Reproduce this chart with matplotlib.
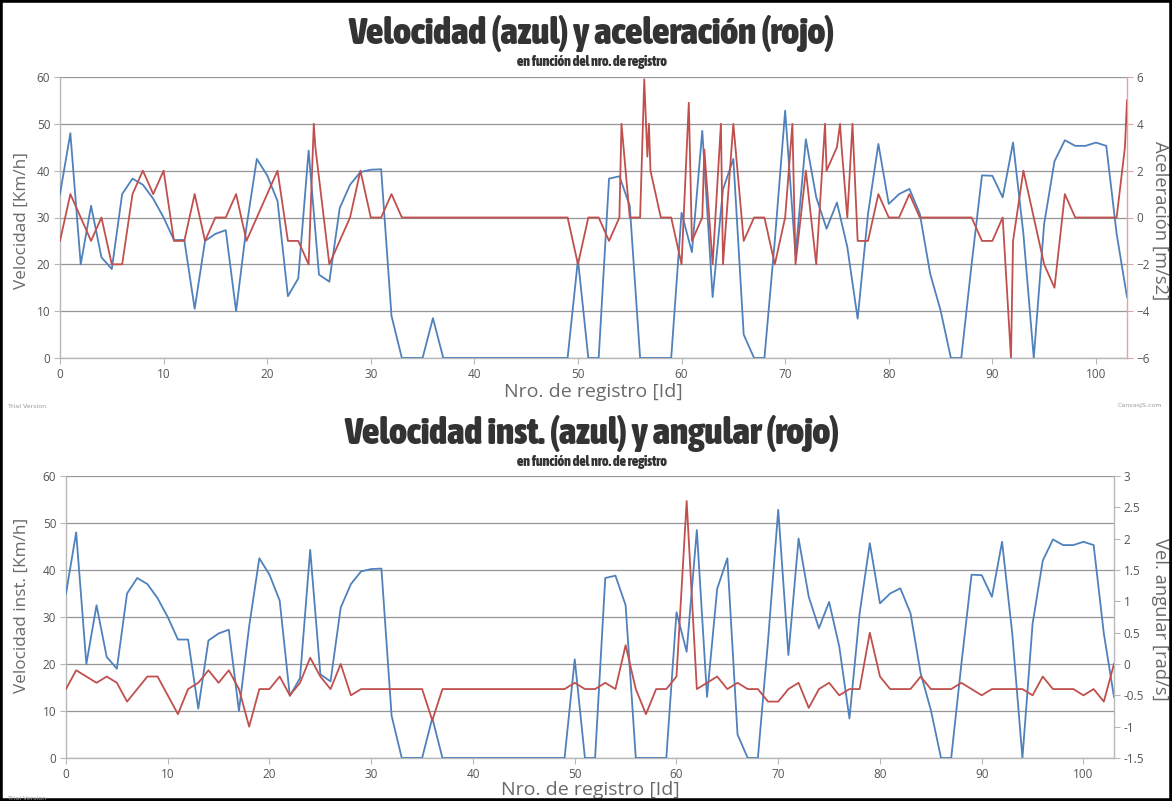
import matplotlib
matplotlib.use("Agg")
import matplotlib.pyplot as plt
from matplotlib.patches import Rectangle
from matplotlib import font_manager as fm

# ---------------- data ----------------
record_ids = list(range(104))

velocity = [35, 48, 20, 32.5, 21.5, 19, 35, 38.3, 37, 34,
            30, 25.2, 25.2, 10.5, 25, 26.5, 27.3, 10, 28, 42.5,
            39, 33.5, 13.2, 17, 44.3, 17.8, 16.3, 32, 37, 39.7,
            40.2, 40.3, 9, 0, 0, 0, 8.5, 0, 0, 0,
            0, 0, 0, 0, 0, 0, 0, 0, 0, 0,
            21, 0, 0, 38.3, 38.8, 32.5, 0, 0, 0, 0,
            31, 22.6, 48.5, 13, 36, 42.5, 5, 0, 0, 25,
            52.8, 21.9, 46.7, 34.3, 27.6, 33.2, 23.7, 8.4, 30.8, 45.7,
            32.9, 35, 36.1, 30.8, 18, 10.2, 0, 0, 20, 39,
            38.9, 34.3, 46, 26.5, 0, 28.6, 42, 46.5, 45.3, 45.3,
            46, 45.3, 26.5, 13]

accel_x = [0, 1, 2, 3, 4, 5, 6, 7, 8, 9,
           10, 11, 12, 13, 14, 15, 16, 17, 18, 19,
           20, 21, 22, 23, 24, 24.5, 24.65, 26, 27, 28,
           29, 30, 31, 32, 33, 34, 35, 36, 37, 38,
           39, 40, 41, 42, 43, 44, 45, 46, 47, 48,
           49, 50, 51, 52, 53, 54, 54.2, 55, 56, 56.4,
           56.7, 56.85, 57, 58, 59, 60, 60.7, 61, 62, 62.2,
           63, 63.8, 64, 65, 66, 67, 68, 69, 70, 70.7,
           71, 72, 73, 73.85, 74, 75, 75.3, 75.45, 76, 76.5,
           77, 78, 79, 80, 81, 82, 83, 84, 85, 86,
           87, 88, 89, 90, 91, 91.8, 92, 93, 95, 96,
           97, 98, 99, 100, 101, 102, 102.8, 103]

accel = [-1, 1, 0, -1, 0, -2, -2, 1, 2, 1,
         2, -1, -1, 1, -1, 0, 0, 1, -1, 0,
         1, 2, -1, -1, -2, 4, 3, -2, -1, 0,
         2, 0, 0, 1, 0, 0, 0, 0, 0, 0,
         0, 0, 0, 0, 0, 0, 0, 0, 0, 0,
         0, -2, 0, 0, -1, 0, 4, 0, 0, 5.9,
         2.6, 4, 2, 0, 0, -2, 4.9, -1, 0, 2.9,
         -2, 4, -2, 4, -1, 0, 0, -2, 0, 4,
         -2, 2, -2, 4, 2, 3, 4, 3, 0, 4,
         -1, -1, 1, 0, 0, 1, 0, 0, 0, 0,
         0, 0, -1, -1, 0, -6, -1, 2, -2, -3,
         1, 0, 0, 0, 0, 0, 3, 5]

angular = [-0.4, -0.1, -0.2, -0.3, -0.2, -0.3, -0.6, -0.4, -0.2, -0.2,
           -0.5, -0.8, -0.4, -0.3, -0.1, -0.3, -0.1, -0.4, -1.0, -0.4,
           -0.4, -0.2, -0.5, -0.3, 0.1, -0.2, -0.4, 0.0, -0.5, -0.4,
           -0.4, -0.4, -0.4, -0.4, -0.4, -0.4, -0.9, -0.4, -0.4, -0.4,
           -0.4, -0.4, -0.4, -0.4, -0.4, -0.4, -0.4, -0.4, -0.4, -0.4,
           -0.3, -0.4, -0.4, -0.3, -0.4, 0.3, -0.4, -0.8, -0.4, -0.4,
           -0.2, 2.6, -0.4, -0.3, -0.2, -0.4, -0.3, -0.4, -0.4, -0.6,
           -0.6, -0.4, -0.3, -0.7, -0.4, -0.3, -0.5, -0.4, -0.4, 0.5,
           -0.2, -0.4, -0.4, -0.4, -0.2, -0.4, -0.4, -0.4, -0.3, -0.4,
           -0.5, -0.4, -0.4, -0.4, -0.4, -0.5, -0.2, -0.4, -0.4, -0.4,
           -0.5, -0.4, -0.6, 0.0]

x_ticks = [0, 10, 20, 30, 40, 50, 60, 70, 80, 90, 100]
vel_ticks = [0, 10, 20, 30, 40, 50, 60]
acc_ticks = [-6, -4, -2, 0, 2, 4, 6]
ang_ticks = [-1.5, -1, -0.5, 0, 0.5, 1, 1.5, 2, 2.5, 3]
ang_labels = ["-1.5", "-1", "-0.5", "0", "0.5", "1", "1.5", "2", "2.5", "3"]

# ---------------- style ----------------
BLUE = "#4F81BC"
RED = "#C0504E"
GRID = "#969696"
AXIS = "#b8b8b8"
TICKLBL = "#555555"
LABEL_FONT = ["Open Sans", "DejaVu Sans"]
LABEL_COLOR = "#6a6a6a"
XLABEL_SIZE = 14
LEFT_SIZE = 12.3
RIGHT_SIZE = 13.2


def _weight(f):
    w = f.weight
    if isinstance(w, int):
        return w
    return {"ultralight": 200, "light": 300, "normal": 400, "regular": 400,
            "medium": 500, "semibold": 600, "demibold": 600, "bold": 700,
            "extra bold": 800, "heavy": 800, "black": 900}.get(str(w).lower(), 400)


def pick_title_font():
    best = None
    for f in fm.fontManager.ttflist:
        n = f.name.lower()
        st = f.stretch
        cond = ("condensed" in n or "narrow" in n or "compressed" in n)
        if isinstance(st, str):
            cond = cond or st in ("condensed", "semi-condensed",
                                  "extra-condensed", "ultra-condensed")
        elif isinstance(st, (int, float)):
            cond = cond or st < 500
        if not cond or "italic" in str(f.style).lower() or "oblique" in str(f.style).lower():
            continue
        score = _weight(f)
        if best is None or score > best[0]:
            best = (score, f.fname)
    if best is not None and best[0] >= 600:
        return fm.FontProperties(fname=best[1])
    return fm.FontProperties(family=["Roboto", "DejaVu Sans"], weight="black")


TITLE_PROP = pick_title_font()

W, H = 1172, 801
fig = plt.figure(figsize=(W / 100, H / 100), dpi=100)
fig.patch.set_facecolor("white")


def px_rect(left, top, right, bottom):
    return [left / W, 1 - bottom / H, (right - left) / W, (bottom - top) / H]


def fitted_text(cx, cy, text, target_w, max_size):
    t = fig.text(cx / W, 1 - cy / H, text, ha="center", va="center",
                 color="#333333", fontproperties=TITLE_PROP.copy())
    t.set_fontsize(max_size)
    r = fig.canvas.get_renderer()
    w = t.get_window_extent(renderer=r).width
    if w > target_w:
        t.set_fontsize(max_size * target_w / w)
    return t


def style_axes(ax, ax2, rcolor):
    ax.set_xlim(0, 103)
    ax.set_ylim(0, 60)
    ax.set_xticks(x_ticks)
    ax.set_yticks(vel_ticks)
    ax.grid(axis="y", color=GRID, lw=0.9)
    ax.grid(axis="x", visible=False)
    ax.set_axisbelow(True)
    for s in ("top", "right"):
        ax.spines[s].set_visible(False)
    for s in ("left", "bottom"):
        ax.spines[s].set_color(AXIS)
        ax.spines[s].set_linewidth(1.0)
    ax.tick_params(axis="both", colors=AXIS, labelcolor=TICKLBL,
                   labelsize=8.5, length=4, width=0.8, pad=3)
    for s in ("top", "left", "bottom"):
        ax2.spines[s].set_visible(False)
    ax2.spines["right"].set_color(rcolor)
    ax2.spines["right"].set_linewidth(1.0)
    ax2.tick_params(axis="y", colors=rcolor, labelcolor=TICKLBL,
                    labelsize=8.5, length=4, width=0.8, pad=3)
    for lbl in ax.get_xticklabels() + ax.get_yticklabels() + ax2.get_yticklabels():
        lbl.set_family(LABEL_FONT)
    ax.set_xlabel("Nro. de registro [Id]", fontsize=XLABEL_SIZE, color=LABEL_COLOR,
                  family=LABEL_FONT)


# ---------------- top chart ----------------
ax1 = fig.add_axes(px_rect(60, 77, 1127, 358))
ax1.plot(record_ids, velocity, color=BLUE, lw=1.3, zorder=3)
ax1b = ax1.twinx()
ax1b.plot(accel_x, accel, color=RED, lw=1.3, zorder=3)
ax1b.set_ylim(-6, 6)
ax1b.set_yticks(acc_ticks)
style_axes(ax1, ax1b, "#d9a8a7")
ax1.set_ylabel("Velocidad [Km/h]", fontsize=LEFT_SIZE, color=LABEL_COLOR, family=LABEL_FONT)
ax1b.set_ylabel("Aceleración [m/s2]", fontsize=RIGHT_SIZE, color=LABEL_COLOR,
                family=LABEL_FONT, rotation=270)
ax1.yaxis.set_label_coords(-0.036, 0.49)
ax1b.yaxis.set_label_coords(1.031, 0.49)
ax1b.yaxis.label.set_va("center")
ax1.yaxis.label.set_va("center")
ax1.xaxis.set_label_coords(0.5, -0.12)
ax1.xaxis.label.set_va("center")

fitted_text(592, 33, "Velocidad (azul) y aceleración (rojo)", 491, 27)
fitted_text(592, 62, "en función del nro. de registro", 185, 10)
fig.text(8 / W, 1 - 406 / H, "Trial Version", ha="left", va="center",
         fontsize=4.5, color="#9a9a9a")
fig.text(1162 / W, 1 - 406 / H, "CanvasJS.com", ha="right", va="center",
         fontsize=4.5, color="#9a9a9a")

# ---------------- bottom chart ----------------
ax2 = fig.add_axes(px_rect(66, 476, 1114, 758))
ax2.plot(record_ids, velocity, color=BLUE, lw=1.3, zorder=3)
ax2b = ax2.twinx()
ax2b.plot(record_ids, angular, color=RED, lw=1.3, zorder=3)
ax2b.set_ylim(-1.5, 3)
ax2b.set_yticks(ang_ticks)
ax2b.set_yticklabels(ang_labels)
style_axes(ax2, ax2b, AXIS)
ax2.set_ylabel("Velocidad inst. [Km/h]", fontsize=LEFT_SIZE, color=LABEL_COLOR,
               family=LABEL_FONT)
ax2b.set_ylabel("Vel. angular [rad/s]", fontsize=RIGHT_SIZE, color=LABEL_COLOR,
                family=LABEL_FONT, rotation=270)
ax2.yaxis.set_label_coords(-0.042, 0.54)
ax2b.yaxis.set_label_coords(1.044, 0.49)
ax2b.yaxis.label.set_va("center")
ax2.yaxis.label.set_va("center")
ax2.xaxis.set_label_coords(0.5, -0.113)
ax2.xaxis.label.set_va("center")

fitted_text(592, 433, "Velocidad inst. (azul) y angular (rojo)", 500, 27)
fitted_text(592, 462, "en función del nro. de registro", 185, 10)
fig.text(8 / W, 1 - 798 / H, "Trial Version", ha="left", va="center",
         fontsize=4.5, color="#9a9a9a")

# frame
fig.patches.append(Rectangle((0, 0), 1, 1, transform=fig.transFigure,
                             fill=False, edgecolor="black", lw=4))

fig.savefig("out.png", dpi=100)
